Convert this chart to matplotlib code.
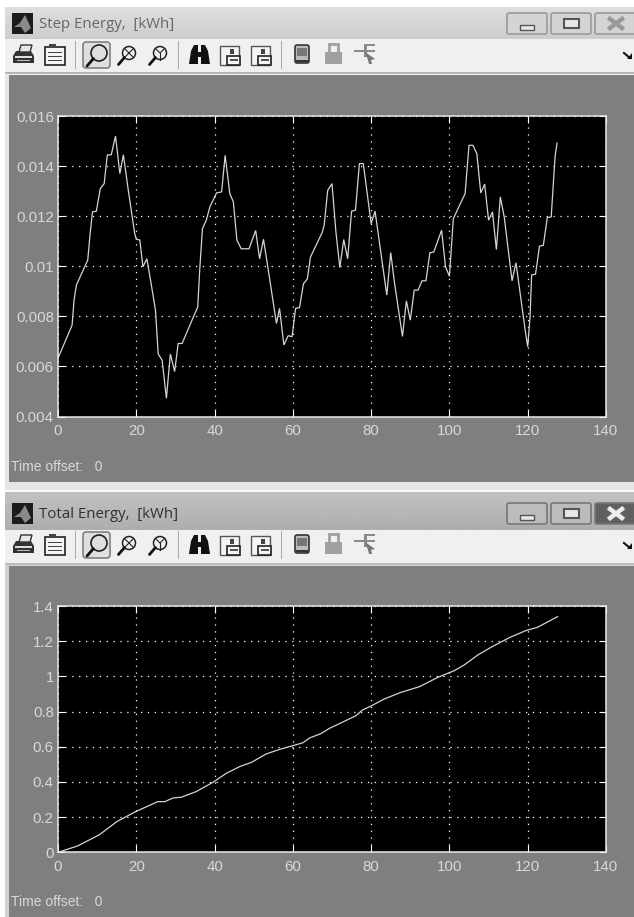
import numpy as np
import matplotlib
matplotlib.use("Agg")
import matplotlib.pyplot as plt
from matplotlib.patches import Rectangle, FancyBboxPatch, Circle, Polygon

# ---------- data ----------
step_t = [0, 3.6, 4.1, 4.7, 7.6, 8.2, 8.8, 9.8, 10.8, 11.8, 12.6, 13.6, 14.7, 15.8, 16.7, 17.9, 19.6, 20, 20.9,
          21.7, 22.7, 23.8, 24.9, 25.6, 26.6, 27.7, 28.7, 29.8, 30.7, 31.7, 35.7, 36.2, 36.9, 37.9, 38.8, 40.5,
          41.8, 42.7, 43.9, 44.8, 45.7, 46.8, 48.8, 50.5, 51.5, 52.5, 53.6, 55.8, 56.6, 57.7, 58.8, 59.8, 60.7,
          61.7, 62.7, 63.7, 64.5, 67.5, 68, 68.9, 70, 71, 72, 73, 74, 75, 76, 77, 78, 80, 81, 84, 85, 86, 88, 89,
          90, 91, 92, 93, 94, 95, 96, 98, 99, 100, 101, 102, 104, 105, 106, 107, 108, 109, 110, 111, 112, 113,
          114, 116, 117, 119.4, 120, 120.6, 121, 122, 123, 124, 125, 126, 127, 127.5]
step_v = [6.33, 7.65, 8.65, 9.25, 10.25, 11.3, 12.17, 12.2, 13.1, 13.3, 14.45, 14.45, 15.2, 13.7, 14.45, 13.1, 11.3,
          11.08, 11.05, 9.98, 10.3, 9.3, 8.25, 6.5, 6.25, 4.73, 6.5, 5.8, 6.92, 6.92, 8.38, 9.85, 11.5, 11.85,
          12.37, 12.93, 12.97, 14.43, 12.9, 12.57, 11.05, 10.7, 10.7, 11.43, 10.3, 11.08, 9.98, 7.72, 8.32, 6.86,
          7.23, 7.19, 8.32, 8.35, 9.3, 9.5, 10.37, 11.35, 11.64, 13.03, 13.3, 11.37, 9.95, 11.07, 10.3, 12.2,
          12.24, 14.1, 14.1, 11.7, 12.2, 8.85, 10.55, 9.3, 7.2, 8.62, 7.85, 9.05, 9.05, 9.42, 9.42, 10.54, 10.57,
          11.44, 9.98, 9.6, 11.9, 12.24, 12.9, 14.83, 14.83, 14.5, 12.93, 13.28, 11.84, 12.17, 10.67, 12.77,
          11.97, 9.42, 10.14, 7.4, 6.79, 8.0, 9.65, 9.69, 10.8, 10.84, 11.95, 11.97, 14.4, 14.92]
total_t = [0, 5, 10.6, 15, 19.8, 25.5, 27.3, 29.4, 31.5, 35.3, 39.6, 43, 46.4, 49.4, 53.2, 56.6, 60, 62.6, 64.3,
           67.1, 69.4, 76, 77.8, 80, 83.3, 87.6, 92.3, 97, 101.2, 103.8, 107.2, 110.6, 115.3, 119.5, 122.5, 127.6]
total_v = [0, .036, .1, .174, .231, .288, .288, .309, .313, .345, .398, .449, .487, .511, .559, .585, .606, .623,
           .65, .674, .705, .775, .809, .832, .871, .909, .941, .994, 1.032, 1.065, 1.121, 1.165, 1.22, 1.26,
           1.279, 1.339]

x_ticks = [0, 20, 40, 60, 80, 100, 120, 140]
step_ticks = [0.004, 0.006, 0.008, 0.01, 0.012, 0.014, 0.016]
step_labels = ["0.004", "0.006", "0.008", "0.01", "0.012", "0.014", "0.016"]
total_ticks = [0, 0.2, 0.4, 0.6, 0.8, 1.0, 1.2, 1.4]
total_labels = ["0", "0.2", "0.4", "0.6", "0.8", "1", "1.2", "1.4"]
titles = ["Step Energy,  [kWh]", "Total Energy,  [kWh]"]

W, H = 634, 917
plt.rcParams["font.family"] = ["Liberation Sans", "DejaVu Sans"]
fig = plt.figure(figsize=(W / 100, H / 100), dpi=100, facecolor="white")
bg = fig.add_axes([0, 0, 1, 1], zorder=0)
bg.set_xlim(0, W); bg.set_ylim(H, 0); bg.axis("off")
GRAY = "#7f7f7f"


def rect(x0, y0, x1, y1, c, **k):
    bg.add_patch(Rectangle((x0, y0), x1 - x0, y1 - y0, fc=c, ec="none", **k))


def gradient(x0, y0, x1, y1, c0, c1):
    g = np.linspace(c0, c1, 32).reshape(-1, 1)
    bg.imshow(g, extent=(x0, x1, y1, y0), cmap="gray", vmin=0, vmax=1, aspect="auto", zorder=1.5)
    bg.set_xlim(0, W); bg.set_ylim(H, 0)


def magnifier(cx, cy, r, kind, lw=1.1):
    bg.add_patch(Circle((cx + 2, cy - 3), r, fc="none", ec="#222222", lw=lw, zorder=4))
    bg.plot([cx + 2 - r * .7, cx - r - 2], [cy - 3 + r * .7, cy + r + 2], color="#111111", lw=2, zorder=4,
            solid_capstyle="round")
    if kind == "in":
        for s in (1, -1):
            bg.plot([cx + 2 - r * .6, cx + 2 + r * .6], [cy - 3 - s * r * .6, cy - 3 + s * r * .6], color="#222222", lw=.8, zorder=4)
    if kind == "out":
        bg.plot([cx + 2, cx + 2], [cy - 3, cy - 3 + r], color="#222222", lw=.8, zorder=4)
        bg.plot([cx + 2 - r * .7, cx + 2, cx + 2 + r * .7], [cy - 3 - r * .7, cy - 3, cy - 3 - r * .7], color="#222222", lw=.8, zorder=4)


def toolbar(cy):
    # printer
    bg.add_patch(Polygon([(13, cy + 1), (16, cy - 4), (31, cy - 4), (34, cy + 1), (34, cy + 8), (13, cy + 8)],
                         fc="#333333", zorder=3))
    bg.add_patch(Polygon([(19, cy - 3), (21, cy - 10), (32, cy - 10), (30, cy - 3)], fc="#e8e8e8", ec="#333333", lw=1, zorder=4))
    rect(15, cy + 1, 32, cy + 2.5, "#dddddd", zorder=4)
    rect(17, cy + 5, 30, cy + 6.2, "#bbbbbb", zorder=4)
    # clipboard
    bg.add_patch(Rectangle((45, cy - 8), 20, 18, fc="#f4f4f4", ec="#222222", lw=1.2, zorder=3))
    rect(49, cy - 11, 56, cy - 7, "#444444", zorder=4)
    for d in (-3, 1, 5):
        rect(48, cy + d, 62, cy + d + 1.4, "#444444", zorder=4)
    # separators
    for x in (75, 178, 281):
        rect(x - .5, cy - 14, x + .7, cy + 14, "#aaaaaa", zorder=3)
    # selected zoom
    bg.add_patch(FancyBboxPatch((83, cy - 13), 27, 26, boxstyle="round,pad=0,rounding_size=3", fc="#dfdfdf",
                                ec="#808080", lw=1.2, zorder=3))
    magnifier(97, cy + 1, 8, "plain", 1.2)
    magnifier(127, cy + 1, 6.5, "in")
    magnifier(158, cy + 1, 6.5, "out")
    # binoculars
    bg.add_patch(Polygon([(189, cy + 9), (191, cy - 4), (194, cy - 10), (198, cy - 10), (198, cy + 9)], fc="#111111", zorder=3))
    bg.add_patch(Polygon([(210, cy + 9), (208, cy - 4), (205, cy - 10), (201, cy - 10), (201, cy + 9)], fc="#111111", zorder=3))
    rect(197, cy - 3, 202, cy + 2, "#111111", zorder=3)
    # restore / save icons
    for x0 in (220, 251):
        bg.add_patch(Rectangle((x0, cy - 9), 19, 19, fc="#f4f4f4", ec="#555555", lw=1, zorder=3))
        bg.add_patch(Rectangle((x0 + 7, cy + 1), 13, 9, fc="#f4f4f4", ec="#222222", lw=1.2, zorder=4))
        rect(x0 + 10, cy + 4, x0 + 18, cy + 6, "#555555", zorder=5)
        rect(x0 + 10, cy - 6, x0 + 14, cy - 1, "#444444", zorder=4)
    # device
    bg.add_patch(FancyBboxPatch((295, cy - 10), 14, 18, boxstyle="round,pad=0,rounding_size=2", fc="#bbbbbb", ec="#333333", lw=1.2, zorder=3))
    rect(297, cy - 7, 307, cy + 1, "#777777", zorder=4)
    rect(296, cy + 5, 308, cy + 7, "#333333", zorder=4)
    # lock
    rect(325, cy - 3, 342, cy + 9, "#a0a0a0", zorder=3)
    bg.add_patch(Rectangle((329, cy - 11), 9, 9, fc="none", ec="#a0a0a0", lw=2, zorder=3))
    # cursor tool
    rect(354, cy - 5, 375, cy - 3, "#8a8a8a", zorder=3)
    rect(364, cy - 11, 375, cy - 9, "#8a8a8a", zorder=3)
    rect(364, cy - 11, 367, cy + 2, "#8a8a8a", zorder=3)
    bg.add_patch(Polygon([(365, cy - 3), (375, cy + 4), (371, cy + 5), (372, cy + 9), (369, cy + 9), (368, cy + 5)], fc="#777777", zorder=4))
    # small arrow
    bg.plot([624, 630], [cy - 2, cy + 3], color="#111111", lw=1.5, zorder=3)
    bg.add_patch(Polygon([(632, cy - 2), (632, cy + 4), (627, cy + 4)], fc="#111111", zorder=3))


def logo(y0):
    rect(12, y0, 33, y0 + 21, "#1c1c1c", zorder=3)
    bg.add_patch(Polygon([(14, y0 + 14), (20, y0 + 10), (25, y0 + 2), (31, y0 + 15), (25, y0 + 20), (21, y0 + 14)],
                         fc="#8a8a8a", zorder=4))


def buttons(y0, y1, fills, edge, dark_close):
    for i, (x0, x1) in enumerate([(507, 547), (551, 591), (595, 640)]):
        fc = "#606060" if (dark_close and i == 2) else fills
        bg.add_patch(FancyBboxPatch((x0, y0), x1 - x0, y1 - y0, boxstyle="round,pad=0,rounding_size=2",
                                    fc=fc, ec=edge, lw=1.2, zorder=3))
    cy = (y0 + y1) / 2
    bg.add_patch(Rectangle((520, cy + 1), 14, 5, fc="#e8e8e8", ec="#555555", lw=1, zorder=4))
    bg.add_patch(Rectangle((564, cy - 5), 15, 9, fc="#e8e8e8", ec="#555555", lw=1.5, zorder=4))
    c = "#eeeeee" if dark_close else "#999999"
    bg.plot([610, 622], [cy - 4.5, cy + 4.5], color=c, lw=3.2, zorder=4)
    bg.plot([610, 622], [cy + 4.5, cy - 4.5], color=c, lw=3.2, zorder=4)


# ---------- window chrome ----------
rect(5, 7, W, 482, "#e6e6e6", zorder=1)
gradient(5, 7, W, 39, .87, .80)
rect(5, 39, W, 72, "#f0f0f0", zorder=2)
rect(5, 72, W, 73.5, "#b4b4b4", zorder=2)
rect(5, 73.5, W, 75, "#f4f4f4", zorder=2)
rect(9, 75, W, 482, GRAY, zorder=2)

rect(5, 482, W, 490, "#e6e6e6", zorder=2)
rect(5, 490, W, 492, "#fafafa", zorder=2)
gradient(5, 492, W, 530, .76, .68)
rect(5, 530, W, 563, "#f0f0f0", zorder=2)
rect(5, 563, W, 565, "#bcbcbc", zorder=2)
rect(5, 565, W, H, "#d2d2d2", zorder=2)
rect(9, 566, W, H, GRAY, zorder=2)

logo(13); logo(503)
toolbar(55); toolbar(545)
buttons(13, 34, "#d4d4d4", "#9a9a9a", False)
buttons(503, 524, "#bcbcbc", "#777777", True)

title_font = ["Open Sans", "DejaVu Sans"]
bg.text(39, 24, titles[0], family=title_font, fontsize=10.8, color="#666666", va="center", ha="left", zorder=5)
bg.text(39, 514, titles[1], family=title_font, fontsize=10.8, color="#303030", va="center", ha="left", zorder=5)
bg.text(11, 467, "Time offset:   0", fontsize=10, color="#d8d8d8", va="center", ha="left", zorder=5)
bg.text(11, 902, "Time offset:   0", fontsize=10, color="#d8d8d8", va="center", ha="left", zorder=5)


# ---------- plots ----------
def scope(y_top, y_bot, t, v, ylim, yticks, ylabels):
    ax = fig.add_axes([58 / W, 1 - y_bot / H, (606 - 58) / W, (y_bot - y_top) / H], zorder=3, facecolor="black")
    ax.plot(t, v, color="#d4d4d4", lw=0.9, solid_joinstyle="miter", clip_on=True)
    ax.set_xlim(0, 140); ax.set_ylim(*ylim)
    ax.set_xticks(x_ticks); ax.set_yticks(yticks)
    ax.set_yticklabels(ylabels)
    ax.grid(True, color="white", lw=0.9, linestyle=(0, (1, 4.5)))
    ax.tick_params(direction="in", length=5, width=0.8, color="white", top=True, right=True,
                   labelcolor="#d8d8d8", labelsize=10.8)
    ax.tick_params(axis="x", pad=5.5)
    ax.tick_params(axis="y", pad=3)
    for s in ax.spines.values():
        s.set_color("#e8e8e8"); s.set_linewidth(1.1)
    return ax


scope(116, 416.6, step_t, np.array(step_v) / 1000, (0.004, 0.016), step_ticks, step_labels)
scope(606, 852.3, total_t, total_v, (0, 1.4), total_ticks, total_labels)

fig.savefig("out.png", dpi=100, facecolor="white")
